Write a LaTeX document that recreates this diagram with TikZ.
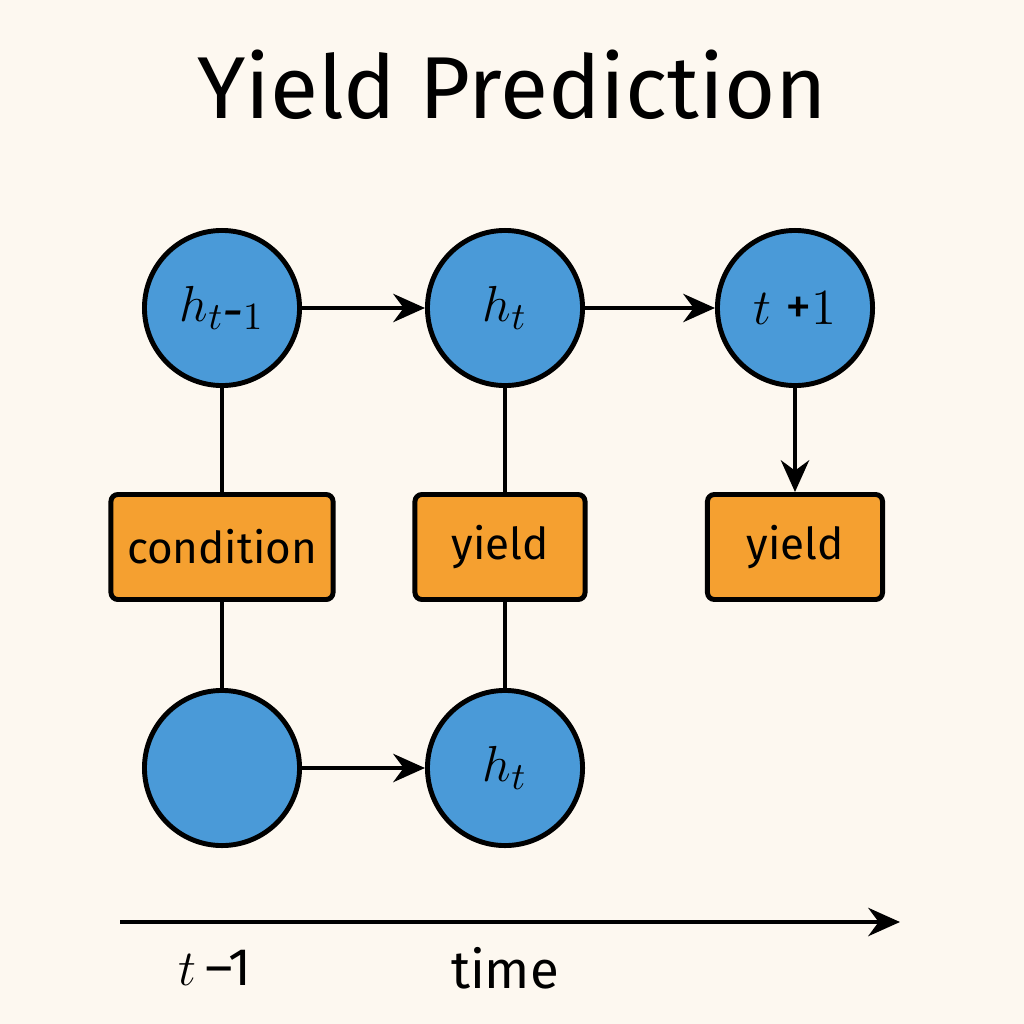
\documentclass[tikz,border=0pt]{standalone}
\usepackage{fontspec}
\setmainfont{Fira Sans}
\usetikzlibrary{arrows.meta,positioning}
\definecolor{bgcol}{HTML}{FDF8F0}
\definecolor{cellblue}{HTML}{4A9AD8}
\definecolor{boxorange}{HTML}{F5A030}

\begin{document}
\begin{tikzpicture}[>={Stealth[length=9pt,width=8pt]},line width=1.4pt,x=0.01cm,y=-0.01cm]
	\tikzset{cell/.style = {shape=circle,draw,fill=cellblue,minimum size=1.55cm,inner sep=0pt,font=\fontsize{15}{15}\selectfont\itshape}}
	\tikzset{obs/.style = {draw,fill=boxorange,rounded corners=2pt,minimum height=1.05cm,font=\fontsize{12.5}{13}\selectfont}}
	\fill[bgcol] (0,0) rectangle (1024,1024);
	% title
	\node (title) at (512,85) {\fontsize{25}{25}\selectfont Yield Prediction};
	% cells
	\node[cell] (hp) at (222,308) {$h_{t\mbox{-}1}$};
	\node[cell] (hc) at (505,308) {$h_t$};
	\node[cell] (hn) at (795,308) {$t$ {\upshape+}$1$};
	\node[cell] (lp) at (222,768) {};
	\node[cell] (lc) at (505,768) {$h_t$};
	% boxes
	\node[obs,minimum width=2.22cm] (cond) at (222,547) {condition};
	\node[obs,minimum width=1.7cm] (yc) at (500,547) {yield};
	\node[obs,minimum width=1.75cm] (yn) at (795,547) {yield};
	%edges
	\draw[->] (hp) -- (hc);
	\draw[->] (hc) -- (hn);
	\draw[->] (hn) -- (yn);
	\draw[->] (lp) -- (lc);
	\draw (hp) -- (cond) -- (lp);
	\draw (hc) -- (hc|-yc.north);
	\draw (hc|-yc.south) -- (lc);
	% time axis
	\coordinate (t0) at (120,922);
	\coordinate (t1) at (900,922);
	\draw[->] (t0) -- (t1);
	\node (tm) at (215,968) {\fontsize{15}{15}\selectfont $t$\,–1};
	\node (tl) at (505,968) {\fontsize{15}{15}\selectfont time};
\end{tikzpicture}
\end{document}
